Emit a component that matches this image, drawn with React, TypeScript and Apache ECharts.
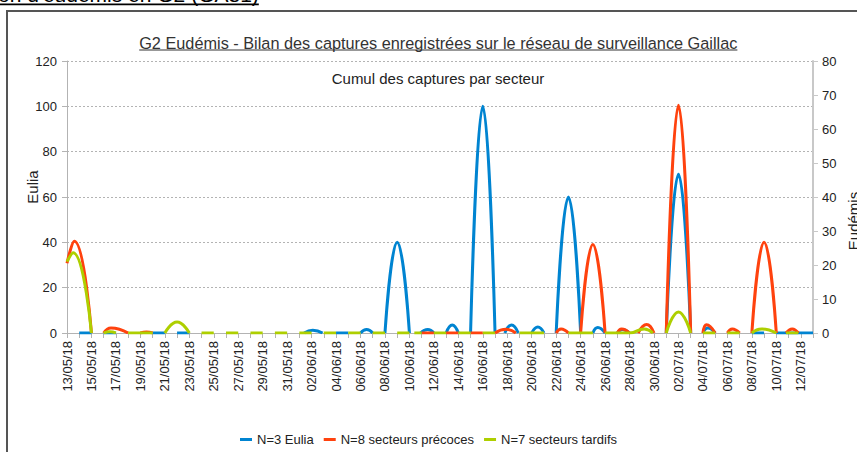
import React, { useEffect, useRef } from 'react';
import * as echarts from 'echarts';

// x positions are day offsets from 13/05/18
const tickLabels = [
  '13/05/18', '15/05/18', '17/05/18', '19/05/18', '21/05/18', '23/05/18', '25/05/18', '27/05/18',
  '29/05/18', '31/05/18', '02/06/18', '04/06/18', '06/06/18', '08/06/18', '10/06/18', '12/06/18',
  '14/06/18', '16/06/18', '18/06/18', '20/06/18', '22/06/18', '24/06/18', '26/06/18', '28/06/18',
  '30/06/18', '02/07/18', '04/07/18', '06/07/18', '08/07/18', '10/07/18', '12/07/18',
];

const seriesNames = ['N=3 Eulia', 'N=8 secteurs précoces', 'N=7 secteurs tardifs'];

// Eulia (left axis)
const euliaSegments: number[][][] = [
  [[1, 0], [2, 0]],
  [[3, 0], [4, 0]],
  [[7, 0], [8, 0]],
  [[9, 0], [10, 0]],
  [[19.4, 0], [20.1, 1.2], [20.9, 0]],
  [[22, 0], [23, 0]],
  [[24, 0], [24.5, 1.5], [25, 0]],
  [[26, 0], [27, 40], [28, 0]],
  [[28.9, 0], [29.5, 1.5], [30, 0]],
  [[31, 0], [31.5, 3.5], [32, 0]],
  [[33, 0], [34, 100], [35, 0]],
  [[35.8, 0], [36.35, 3.5], [36.9, 0]],
  [[38, 0], [38.5, 2.6], [39, 0]],
  [[40, 0], [41, 60], [42, 0]],
  [[43, 0], [43.4, 2.4], [44, 0]],
  [[45, 0], [45.4, 1.5], [46, 0]],
  [[49, 0], [50, 70], [51, 0]],
  [[52, 0], [52.4, 2.2], [53, 0]],
  [[56, 0], [57, 0]],
  [[58, 0], [61, 0]],
];

// Secteurs précoces (right axis)
const precocesSegments: number[][][] = [
  [[0, 20.5], [0.6, 27], [2, 0]],
  [[3, 0], [3.6, 1.5], [5, 0]],
  [[6, 0], [6.5, 0.3], [7, 0]],
  [[29, 0], [30, 0]],
  [[31, 0], [32, 0]],
  [[33, 0], [34, 0]],
  [[35, 0], [35.9, 1.1], [36.7, 0]],
  [[40, 0], [40.4, 1.2], [41, 0]],
  [[42, 0], [43, 26], [44, 0]],
  [[45, 0], [45.35, 1.2], [46, 0]],
  [[46.7, 0], [47.4, 2.5], [48, 0]],
  [[49, 0], [50, 67], [51, 0]],
  [[52, 0], [52.3, 2.4], [53, 0]],
  [[54, 0], [54.4, 1.2], [55, 0]],
  [[56, 0], [57, 26.7], [58, 0]],
  [[58.8, 0], [59.3, 1.2], [59.8, 0]],
];

// Secteurs tardifs (right axis)
const tardifsSegments: number[][][] = [
  [[0, 21], [0.5, 23.6], [2, 0]],
  [[3, 0], [3.5, 0.4], [4, 0]],
  [[5, 0], [7, 0]],
  [[8, 0], [9, 3.2], [10, 0]],
  [[11, 0], [12, 0]],
  [[13, 0], [14, 0]],
  [[15, 0], [16, 0]],
  [[17, 0], [18, 0]],
  [[19, 0], [20, 0]],
  [[21, 0], [22, 0]],
  [[23, 0], [24, 0]],
  [[25, 0], [26, 0]],
  [[27, 0], [28, 0]],
  [[28.4, 0], [29, 0]],
  [[30, 0], [31, 0]],
  [[32, 0], [33, 0]],
  [[34, 0], [35, 0]],
  [[37, 0], [39, 0]],
  [[41, 0], [43, 0]],
  [[44, 0], [46, 0], [47.2, 1.2], [47.9, 0]],
  [[49, 0], [50, 6.2], [51, 0]],
  [[52, 0], [53, 0]],
  [[54, 0], [55, 0]],
  [[56, 0], [56.8, 1.2], [58, 0]],
  [[58.8, 0], [59.8, 0]],
];

const colors = ['#0084d1', '#ff420e', '#aecf00'];
const FONT = '"Liberation Sans", Arial, sans-serif';

function toSeriesData(segs: number[][][]) {
  const out: (number | string)[][] = [];
  segs.forEach((seg, k) => {
    if (k > 0) out.push([seg[0][0], '-']);
    seg.forEach((p) => out.push([p[0], p[1]]));
  });
  return out;
}

export default function App() {
  const ref = useRef<HTMLDivElement>(null);
  useEffect(() => {
    if (!ref.current) return;
    const chart = echarts.init(ref.current, undefined, { renderer: 'svg' });
    const ctx = document.createElement('canvas').getContext('2d')!;
    const measure = (text: string, font: string) => {
      ctx.font = font;
      return ctx.measureText(text).width;
    };
    const headerText = "on d'eudémis en G2 (GA81)";
    const headerFont = `21px ${FONT}`;
    const titleText = 'G2 Eudémis - Bilan des captures enregistrées sur le réseau de surveillance Gaillac';
    const titleFont = `16.3px ${FONT}`;
    const hw = measure(headerText, headerFont);
    const tw = measure(titleText, titleFont);
    const tcx = 438.3;

    const axisGray = '#b3b3b3';
    const option: any = {
      animation: false,
      backgroundColor: '#ffffff',
      textStyle: { fontFamily: FONT },
      grid: { left: 67, top: 61, width: 746, height: 272 },
      legend: {
        data: seriesNames,
        top: 428,
        left: 'center',
        icon: 'rect',
        itemWidth: 12,
        itemHeight: 3,
        itemGap: 10,
        textStyle: { fontSize: 13, color: '#222', fontFamily: FONT },
      },
      xAxis: {
        type: 'value',
        min: 0,
        max: 61,
        interval: 1,
        axisLine: { show: true, lineStyle: { color: axisGray, width: 1 } },
        axisTick: { show: true, length: 5, lineStyle: { color: axisGray } },
        splitLine: { show: false },
        axisLabel: {
          rotate: 90,
          fontSize: 13,
          color: '#222',
          margin: 8,
          fontFamily: FONT,
          formatter: (v: number) => (v % 2 === 0 ? tickLabels[v / 2] ?? '' : ''),
        },
      },
      yAxis: [
        {
          type: 'value',
          min: 0,
          max: 120,
          interval: 20,
          position: 'left',
          axisLine: { show: true, lineStyle: { color: axisGray, width: 1 } },
          axisTick: { show: true, length: 5, lineStyle: { color: axisGray } },
          axisLabel: { fontSize: 13, color: '#222', margin: 10, fontFamily: FONT },
          splitLine: { show: true, lineStyle: { color: axisGray, type: [2, 2], width: 1 } },
        },
        {
          type: 'value',
          min: 0,
          max: 80,
          interval: 10,
          position: 'right',
          axisLine: { show: true, lineStyle: { color: '#c8c8c8', width: 2 } },
          axisTick: { show: true, length: 5, lineStyle: { color: '#c8c8c8' } },
          axisLabel: { fontSize: 13, color: '#222', margin: 9, fontFamily: FONT },
          splitLine: { show: false },
        },
      ],
      series: [
        { segs: euliaSegments, axis: 0 },
        { segs: precocesSegments, axis: 1 },
        { segs: tardifsSegments, axis: 1 },
      ].map((s, i) => ({
        name: seriesNames[i],
        type: 'line',
        yAxisIndex: s.axis,
        data: toSeriesData(s.segs),
        smooth: 0.5,
        showSymbol: false,
        symbol: 'none',
        connectNulls: false,
        color: colors[i],
        lineStyle: { color: colors[i], width: 3 },
        itemStyle: { color: colors[i] },
        z: 2 + i,
      })),
      graphic: [
        {
          type: 'rect',
          silent: true,
          shape: { x: 7, y: 11, width: 900, height: 500 },
          style: { fill: 'none', stroke: '#555555', lineWidth: 2 },
        },
        {
          type: 'text',
          x: -2,
          y: -5.5,
          style: { text: headerText, font: headerFont, fill: '#000', verticalAlign: 'middle', align: 'left' },
        },
        {
          type: 'rect',
          shape: { x: -2, y: 3.6, width: hw, height: 1.6 },
          style: { fill: '#000' },
        },
        {
          type: 'text',
          x: tcx,
          y: 42.8,
          style: { text: titleText, font: titleFont, fill: '#333', verticalAlign: 'middle', align: 'center' },
        },
        {
          type: 'rect',
          shape: { x: tcx - tw / 2, y: 49.6, width: tw, height: 1 },
          style: { fill: '#333' },
        },
        {
          type: 'text',
          x: 438,
          y: 78,
          style: {
            text: 'Cumul des captures par secteur',
            font: `15px ${FONT}`,
            fill: '#222',
            verticalAlign: 'middle',
            align: 'center',
          },
        },
        {
          type: 'text',
          x: 32,
          y: 187,
          rotation: Math.PI / 2,
          style: { text: 'Eulia', font: `15px ${FONT}`, fill: '#222', verticalAlign: 'middle', align: 'center' },
        },
        {
          type: 'text',
          x: 853,
          y: 221,
          rotation: Math.PI / 2,
          style: { text: 'Eudémis', font: `15px ${FONT}`, fill: '#222', verticalAlign: 'middle', align: 'center' },
        },
      ],
    };
    chart.setOption(option);
    return () => chart.dispose();
  }, []);
  return (
    <div
      ref={ref}
      style={{ position: 'fixed', left: 0, top: 0, width: 857, height: 452, background: '#fff' }}
    />
  );
}
